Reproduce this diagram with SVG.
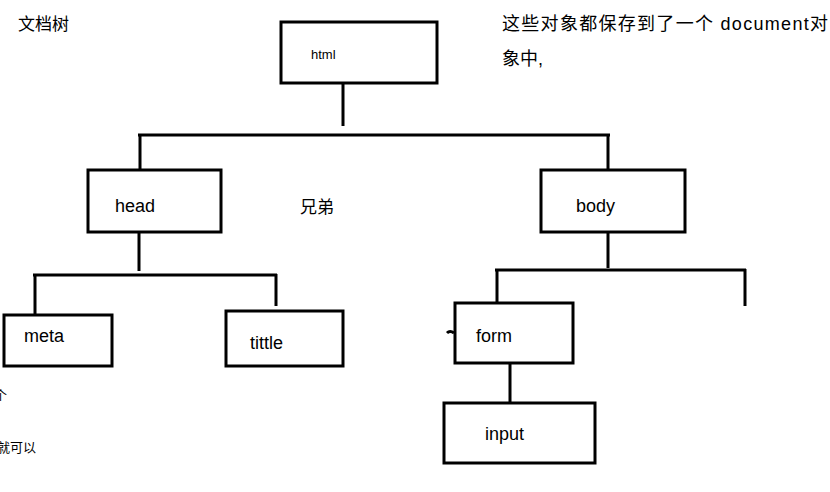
<svg xmlns="http://www.w3.org/2000/svg" width="830" height="492" viewBox="0 0 830 492">
<style>
.b{fill:#fff;stroke:#000;stroke-width:3}
.l{stroke:#000;stroke-width:3;fill:none}
text{font-family:"Liberation Sans","Noto Sans CJK SC",sans-serif;fill:#000}
.t{font-size:18px}
</style>
<rect width="830" height="492" fill="#fff"/>
<g id="connectors">
<path class="l" d="M343 83V126M138 135H610M140 134V170M608 134V170"/>
<path class="l" d="M139 232V271M33 275H277M35 274V315M276 274V306"/>
<path class="l" d="M608 232V268M495 270H746M497 269V303M745 269V306"/>
<path class="l" d="M510 363V403M447 333Q450 330 454 333"/>
</g>
<g id="html"><rect class="b" x="281" y="22" width="156" height="61"/><text x="311" y="59" font-size="13">html</text></g>
<g id="head"><rect class="b" x="88" y="170" width="133" height="62"/><text class="t" x="115" y="212">head</text></g>
<g id="body"><rect class="b" x="541" y="170" width="144" height="62"/><text class="t" x="576" y="212">body</text></g>
<g id="meta"><rect class="b" x="4" y="315" width="108" height="51"/><text class="t" x="24" y="342">meta</text></g>
<g id="tittle"><rect class="b" x="226" y="311" width="117" height="55"/><text class="t" x="250" y="349">tittle</text></g>
<g id="form"><rect class="b" x="455" y="303" width="118" height="60"/><text class="t" x="476" y="342">form</text></g>
<g id="input"><rect class="b" x="444" y="403" width="151" height="60"/><text class="t" x="485" y="440">input</text></g>
<text x="18" y="30" font-size="17">文档树</text>
<text x="502" y="30" font-size="18" textLength="326">这些对象都保存到了一个 document对</text>
<text x="502" y="65" font-size="18">象中,</text>
<text x="300" y="213" font-size="17">兄弟</text>
<text x="-6" y="400" font-size="13">个</text>
<text x="-6" y="427" font-size="13">：</text>
<text x="-3" y="452" font-size="13">就可以</text>
</svg>
